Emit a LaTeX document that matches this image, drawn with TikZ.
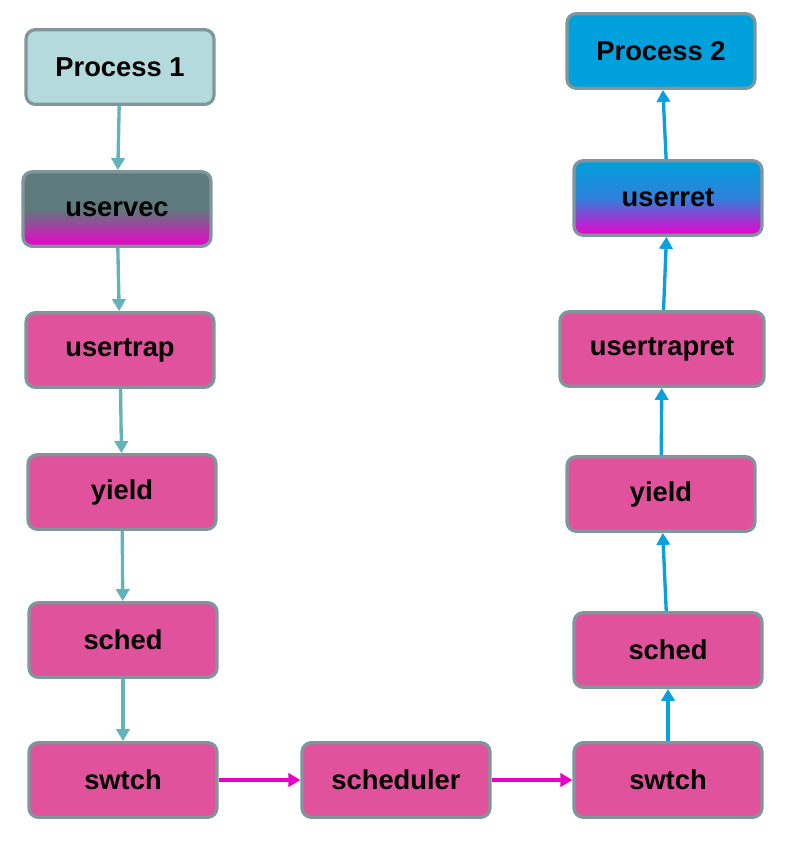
\documentclass[tikz,border=0pt]{standalone}
\usepackage{fontspec}
\setmainfont{Liberation Sans}
\usetikzlibrary{arrows.meta}
\definecolor{boxline}{HTML}{7F979B}
\definecolor{funcpink}{HTML}{E0539C}
\definecolor{procone}{HTML}{B4DADE}
\definecolor{proctwo}{HTML}{00A0DC}
\definecolor{vecgray}{HTML}{5F7A7C}
\definecolor{hotpink}{HTML}{EE00CC}
\definecolor{downteal}{HTML}{62B4BA}
\definecolor{upblue}{HTML}{0AA0DC}
\definecolor{sidemag}{HTML}{E600C8}
\begin{document}
\begin{tikzpicture}[
    x=0.75pt, y=-0.75pt,
    box/.style={draw=boxline, line width=2.4pt, rounded corners=7pt,
                minimum width=141pt, minimum height=56pt, inner sep=0pt,
                font=\fontsize{20.5}{24}\selectfont\bfseries, text=black, align=center},
    func/.style={box, fill=funcpink},
    proc/.style={box},
    edge/.style={line width=2.5pt, -{Triangle[length=9pt,width=10pt]}},
  ]
    \useasboundingbox (0,0) rectangle (795,844);
    % left column
    \node[proc, fill=procone] (procA) at (120,67) {Process 1};
    \node[proc, top color=vecgray, bottom color=hotpink, middle color=vecgray] (uservec) at (117,209) {uservec};
    \node[func] (usertrap) at (120,350) {usertrap};
    \node[func] (yieldA) at (122,492) {yield};
    \node[func] (schedA) at (123,640) {sched};
    \node[func] (swtchA) at (123,780) {swtch};
    % middle
    \node[func] (scheduler) at (396,780) {scheduler};
    % right column
    \node[func] (swtchB) at (668,780) {swtch};
    \node[func] (schedB) at (668,650) {sched};
    \node[func] (yieldB) at (661,494) {yield};
    \node[func, minimum width=153pt] (usertrapret) at (662,349) {usertrapret};
    \node[proc, top color=proctwo, bottom color=hotpink, middle color=proctwo!80!hotpink] (userret) at (668,198) {userret};
    \node[proc, fill=proctwo] (procB) at (661,51) {Process 2};

    \foreach \a/\b in {procA/uservec, uservec/usertrap, usertrap/yieldA, yieldA/schedA, schedA/swtchA}
      \draw[edge, downteal] (\a) -- (\b);
    \foreach \a/\b in {swtchA/scheduler, scheduler/swtchB}
      \draw[edge, sidemag] (\a) -- (\b);
    \foreach \a/\b in {swtchB/schedB, schedB/yieldB, yieldB/usertrapret, usertrapret/userret, userret/procB}
      \draw[edge, upblue] (\a) -- (\b);
  \end{tikzpicture}
\end{document}
